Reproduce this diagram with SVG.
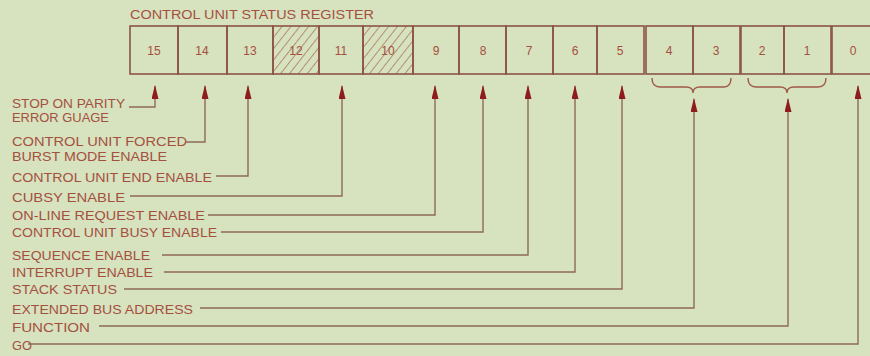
<svg xmlns="http://www.w3.org/2000/svg" width="870" height="356" viewBox="0 0 870 356">
<style>
.bg{fill:#d7e2bf}
.cell{fill:none;stroke:#8c5444;stroke-width:1.6}
.hatch{fill:url(#hatch);stroke:#8c5444;stroke-width:1.6}
.num{font-family:"Liberation Sans",Arial,sans-serif;font-size:12px;fill:#a4503e;text-anchor:middle}
.lbl{font-family:"Liberation Sans",Arial,sans-serif;font-size:12.4px;fill:#a4503e}
.ttl{font-family:"Liberation Sans",Arial,sans-serif;font-size:12px;fill:#a4503e}
.arr{fill:none;stroke:#8e6a58;stroke-width:1.4;marker-end:url(#ah)}
.brace{fill:none;stroke:#a05a48;stroke-width:1.4}
</style>
<defs>
<pattern id="hatch" patternUnits="userSpaceOnUse" width="7" height="7" patternTransform="rotate(38)">
<line x1="0" y1="0" x2="0" y2="7" stroke="#9a5646" stroke-width="1.2"/>
</pattern>
<marker id="ah" markerUnits="userSpaceOnUse" markerWidth="14" markerHeight="7" refX="13" refY="3.5" orient="auto">
<path d="M0,0 L14,3.5 L0,7 Z" fill="#8e1c1c"/>
</marker>
</defs>
<rect class="bg" x="0" y="0" width="870" height="356"/>
<text class="ttl" x="130" y="19" textLength="244" lengthAdjust="spacingAndGlyphs">CONTROL UNIT  STATUS  REGISTER</text>
<g id="register">
<g id="bit15"><rect class="cell" x="130" y="26" width="48" height="48"/><text class="num" x="154" y="55">15</text></g>
<g id="bit14"><rect class="cell" x="178" y="26" width="49" height="48"/><text class="num" x="202" y="55">14</text></g>
<g id="bit13"><rect class="cell" x="227" y="26" width="46" height="48"/><text class="num" x="250" y="55">13</text></g>
<g id="bit12"><rect class="hatch" x="273" y="26" width="46" height="48"/><text class="num" x="296" y="55">12</text></g>
<g id="bit11"><rect class="cell" x="319" y="26" width="44" height="48"/><text class="num" x="341" y="55">11</text></g>
<g id="bit10"><rect class="hatch" x="363" y="26" width="50" height="48"/><text class="num" x="388" y="55">10</text></g>
<g id="bit9"><rect class="cell" x="413" y="26" width="46" height="48"/><text class="num" x="436" y="55">9</text></g>
<g id="bit8"><rect class="cell" x="459" y="26" width="47" height="48"/><text class="num" x="483" y="55">8</text></g>
<g id="bit7"><rect class="cell" x="506" y="26" width="47" height="48"/><text class="num" x="529" y="55">7</text></g>
<g id="bit6"><rect class="cell" x="553" y="26" width="44" height="48"/><text class="num" x="575" y="55">6</text></g>
<g id="bit5"><rect class="cell" x="597" y="26" width="47" height="48"/><text class="num" x="620" y="55">5</text></g>
<g id="bit4"><rect class="cell" x="646" y="26" width="47" height="48"/><text class="num" x="669" y="55">4</text></g>
<g id="bit3"><rect class="cell" x="693" y="26" width="47" height="48"/><text class="num" x="716" y="55">3</text></g>
<g id="bit2"><rect class="cell" x="741" y="26" width="43" height="48"/><text class="num" x="762" y="55">2</text></g>
<g id="bit1"><rect class="cell" x="784" y="26" width="47" height="48"/><text class="num" x="807" y="55">1</text></g>
<g id="bit0"><rect class="cell" x="832" y="26" width="45" height="48"/><text class="num" x="853" y="55">0</text></g>
</g>
<g id="braces">
<path class="brace" d="M652,78 Q652,87 660,87 L686,87 Q693,87 693,93 Q693,87 700,87 L724,87 Q731,87 731,78"/>
<path class="brace" d="M748,78 Q748,87 756,87 L780,87 Q787,87 787,93 Q787,87 794,87 L818,87 Q826,87 826,78"/>
</g>
<g id="labels">
<g id="l15"><text class="lbl" x="12" y="108" textLength="113" lengthAdjust="spacingAndGlyphs">STOP ON PARITY</text><text class="lbl" x="12" y="122" textLength="97" lengthAdjust="spacingAndGlyphs">ERROR GUAGE</text></g>
<g id="l14"><text class="lbl" x="12" y="146" textLength="175" lengthAdjust="spacingAndGlyphs">CONTROL  UNIT FORCED</text><text class="lbl" x="12" y="161" textLength="155" lengthAdjust="spacingAndGlyphs">BURST MODE  ENABLE</text></g>
<g id="l13"><text class="lbl" x="12" y="182" textLength="200" lengthAdjust="spacingAndGlyphs">CONTROL UNIT END ENABLE</text></g>
<g id="l11"><text class="lbl" x="12" y="202" textLength="113" lengthAdjust="spacingAndGlyphs">CUBSY  ENABLE</text></g>
<g id="l9"><text class="lbl" x="12" y="220" textLength="193" lengthAdjust="spacingAndGlyphs">ON-LINE  REQUEST ENABLE</text></g>
<g id="l8"><text class="lbl" x="12" y="237" textLength="205" lengthAdjust="spacingAndGlyphs">CONTROL UNIT BUSY ENABLE</text></g>
<g id="l7"><text class="lbl" x="12" y="260" textLength="138" lengthAdjust="spacingAndGlyphs">SEQUENCE  ENABLE</text></g>
<g id="l6"><text class="lbl" x="12" y="277" textLength="141" lengthAdjust="spacingAndGlyphs">INTERRUPT ENABLE</text></g>
<g id="l5"><text class="lbl" x="12" y="294" textLength="105" lengthAdjust="spacingAndGlyphs">STACK  STATUS</text></g>
<g id="l43"><text class="lbl" x="12" y="314" textLength="181" lengthAdjust="spacingAndGlyphs">EXTENDED BUS ADDRESS</text></g>
<g id="l21"><text class="lbl" x="12" y="332" textLength="78" lengthAdjust="spacingAndGlyphs">FUNCTION</text></g>
<g id="l0"><text class="lbl" x="12" y="350" textLength="20" lengthAdjust="spacingAndGlyphs">GO</text></g>
</g>
<g id="connectors">
<path class="arr" d="M129,107 L155,107 L155,86"/>
<path class="arr" d="M186,142 L205,142 L205,86"/>
<path class="arr" d="M216,176 L248,176 L248,86"/>
<path class="arr" d="M130,196 L342,196 L342,86"/>
<path class="arr" d="M208,215 L435,215 L435,86"/>
<path class="arr" d="M221,232 L483,232 L483,86"/>
<path class="arr" d="M162,255 L528,255 L528,86"/>
<path class="arr" d="M164,272 L575,272 L575,86"/>
<path class="arr" d="M124,289 L622,289 L622,86"/>
<path class="arr" d="M200,308 L694,308 L694,99"/>
<path class="arr" d="M99,326 L788,326 L788,99"/>
<path class="arr" d="M28,344 L858,344 L858,86"/>
</g>
</svg>
